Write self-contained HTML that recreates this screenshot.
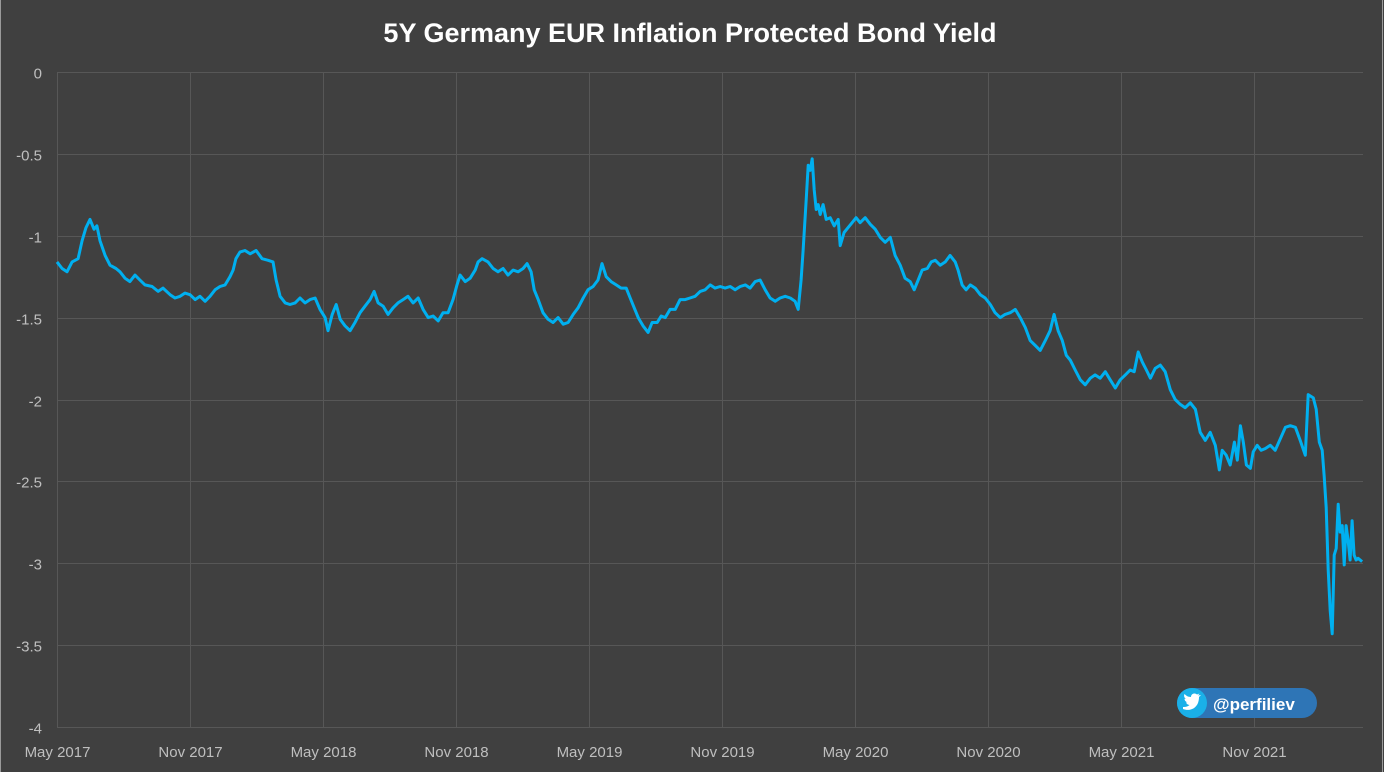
<!DOCTYPE html>
<html><head><meta charset="utf-8"><style>
html,body{margin:0;padding:0;background:#404040;}
svg{display:block;font-family:"Liberation Sans",sans-serif;}
</style></head><body>
<svg id="chart" width="1384" height="772" xmlns="http://www.w3.org/2000/svg">
<rect x="0" y="0" width="1384" height="772" fill="#404040"/>
<line x1="0.5" y1="0" x2="0.5" y2="772" stroke="#9a9a9a"/>
<line x1="1382.5" y1="0" x2="1382.5" y2="772" stroke="#9a9a9a"/>
<text x="690" y="42" text-anchor="middle" fill="#ffffff" font-size="27" font-weight="bold">5Y Germany EUR Inflation Protected Bond Yield</text>
<g id="grid"></g>
<g id="yticks"></g>
<g id="xticks"></g>
<path id="line" fill="none" stroke="#00b0f0" stroke-width="3" stroke-linejoin="round"/>
<g>
<rect x="1177" y="688" width="140" height="30" rx="15" fill="#2e75b6"/>
<circle cx="1192" cy="703" r="15" fill="#1ab0e8"/>
<path d="M1183,709 C1188,711 1195,710 1198,703 C1199,700 1199,698 1199,697 L1201,695 L1198,695.5 L1199.5,693.5 L1197,694.5 C1195,692.5 1191,693.5 1191,697 C1188,697 1186,695.5 1184.5,694 C1183.5,696 1184.5,698 1186,699 L1184.5,698.7 C1184.5,700.5 1186,702 1187.5,702.3 L1186,702.4 C1186.6,704 1188,705 1189.5,705 C1188,706.5 1185.5,707.2 1183,707 Z" fill="#ffffff"/>
<text x="1213" y="710" fill="#ffffff" font-size="17" font-weight="bold">@perfiliev</text>
</g>
</svg>
<script>
const yTickValues=[0,-0.5,-1,-1.5,-2,-2.5,-3,-3.5,-4];
const yTickLabels=["0","-0.5","-1","-1.5","-2","-2.5","-3","-3.5","-4"];
const xTickMonths=[0,6,12,18,24,30,36,42,48,54];
const xTickLabels=["May 2017","Nov 2017","May 2018","Nov 2018","May 2019","Nov 2019","May 2020","Nov 2020","May 2021","Nov 2021"];
const months=[0,0.23,0.45,0.68,0.95,1.13,1.31,1.49,1.67,1.80,1.94,2.17,2.39,2.66,2.84,3.07,3.29,3.52,3.74,3.97,4.29,4.56,4.78,5.10,5.32,5.55,5.77,6.00,6.23,6.45,6.68,6.90,7.13,7.35,7.58,7.80,7.94,8.07,8.25,8.48,8.71,8.98,9.25,9.52,9.74,9.88,10.06,10.29,10.51,10.74,10.96,11.19,11.41,11.64,11.86,12.09,12.22,12.41,12.59,12.77,12.99,13.22,13.44,13.67,13.89,14.12,14.30,14.48,14.71,14.93,15.16,15.38,15.61,15.83,16.06,16.29,16.51,16.74,16.96,17.19,17.41,17.64,17.86,18.04,18.18,18.41,18.63,18.86,18.99,19.17,19.44,19.67,19.89,20.12,20.34,20.57,20.80,21.02,21.20,21.38,21.52,21.70,21.92,22.15,22.37,22.60,22.83,23.05,23.28,23.50,23.73,23.95,24.18,24.40,24.58,24.77,24.99,25.22,25.44,25.67,25.85,26.03,26.21,26.43,26.66,26.84,27.07,27.25,27.43,27.65,27.88,28.10,28.33,28.55,28.78,29.01,29.23,29.46,29.68,29.91,30.13,30.36,30.58,30.81,31.04,31.26,31.49,31.71,31.94,32.16,32.39,32.61,32.84,33.07,33.29,33.43,33.56,33.65,33.79,33.88,33.97,34.06,34.15,34.24,34.33,34.42,34.55,34.69,34.87,35.05,35.23,35.32,35.50,35.68,35.86,36.04,36.22,36.45,36.68,36.90,37.13,37.35,37.58,37.80,38.03,38.25,38.48,38.66,38.84,39.02,39.25,39.43,39.61,39.83,40.06,40.28,40.51,40.64,40.82,41.00,41.19,41.41,41.64,41.86,42.09,42.31,42.54,42.76,42.99,43.22,43.44,43.67,43.89,44.12,44.34,44.57,44.79,44.97,45.15,45.34,45.52,45.70,45.92,46.15,46.37,46.60,46.82,47.05,47.28,47.50,47.73,47.95,48.18,48.40,48.58,48.76,48.94,49.13,49.31,49.53,49.76,49.98,50.21,50.43,50.66,50.88,51.11,51.34,51.56,51.79,52.01,52.24,52.42,52.55,52.73,52.91,53.10,53.23,53.37,53.50,53.64,53.82,53.95,54.13,54.31,54.49,54.72,54.94,55.17,55.40,55.62,55.85,56.07,56.30,56.43,56.66,56.79,56.93,57.06,57.15,57.24,57.33,57.42,57.51,57.60,57.69,57.78,57.87,57.96,58.05,58.14,58.23,58.32,58.41,58.50,58.59,58.68,58.86];
const yields=[-1.16,-1.20,-1.22,-1.16,-1.14,-1.03,-0.95,-0.90,-0.96,-0.94,-1.03,-1.12,-1.18,-1.20,-1.22,-1.26,-1.28,-1.24,-1.27,-1.30,-1.31,-1.34,-1.32,-1.36,-1.38,-1.37,-1.35,-1.36,-1.39,-1.37,-1.40,-1.37,-1.33,-1.31,-1.30,-1.25,-1.21,-1.14,-1.10,-1.09,-1.11,-1.09,-1.14,-1.15,-1.16,-1.27,-1.37,-1.41,-1.42,-1.41,-1.38,-1.41,-1.39,-1.38,-1.45,-1.50,-1.58,-1.48,-1.42,-1.51,-1.55,-1.58,-1.53,-1.47,-1.43,-1.39,-1.34,-1.41,-1.43,-1.48,-1.44,-1.41,-1.39,-1.37,-1.41,-1.38,-1.45,-1.50,-1.49,-1.52,-1.47,-1.47,-1.39,-1.30,-1.24,-1.28,-1.26,-1.21,-1.16,-1.14,-1.16,-1.20,-1.22,-1.20,-1.24,-1.21,-1.22,-1.20,-1.17,-1.22,-1.33,-1.39,-1.47,-1.51,-1.53,-1.50,-1.54,-1.53,-1.48,-1.44,-1.38,-1.33,-1.31,-1.27,-1.17,-1.25,-1.28,-1.30,-1.32,-1.32,-1.38,-1.44,-1.50,-1.55,-1.59,-1.53,-1.53,-1.49,-1.50,-1.45,-1.45,-1.39,-1.39,-1.38,-1.37,-1.34,-1.33,-1.30,-1.32,-1.31,-1.32,-1.31,-1.33,-1.31,-1.30,-1.32,-1.28,-1.27,-1.33,-1.38,-1.40,-1.38,-1.37,-1.38,-1.40,-1.45,-1.27,-1.09,-0.78,-0.57,-0.60,-0.53,-0.72,-0.84,-0.81,-0.87,-0.81,-0.90,-0.89,-0.94,-0.90,-1.06,-0.98,-0.95,-0.92,-0.89,-0.92,-0.89,-0.93,-0.96,-1.01,-1.04,-1.01,-1.12,-1.18,-1.26,-1.28,-1.33,-1.27,-1.21,-1.20,-1.16,-1.15,-1.18,-1.16,-1.12,-1.16,-1.21,-1.30,-1.33,-1.30,-1.32,-1.36,-1.38,-1.42,-1.47,-1.50,-1.48,-1.47,-1.45,-1.50,-1.56,-1.64,-1.67,-1.70,-1.64,-1.58,-1.48,-1.58,-1.64,-1.73,-1.76,-1.82,-1.88,-1.91,-1.87,-1.85,-1.87,-1.83,-1.88,-1.93,-1.88,-1.85,-1.82,-1.83,-1.71,-1.77,-1.82,-1.87,-1.81,-1.79,-1.83,-1.94,-2.00,-2.03,-2.05,-2.02,-2.06,-2.20,-2.25,-2.20,-2.28,-2.43,-2.31,-2.34,-2.40,-2.26,-2.37,-2.16,-2.26,-2.40,-2.42,-2.32,-2.28,-2.31,-2.30,-2.28,-2.31,-2.24,-2.17,-2.16,-2.17,-2.25,-2.34,-1.97,-1.99,-2.06,-2.26,-2.31,-2.47,-2.66,-3.04,-3.29,-3.43,-2.95,-2.91,-2.64,-2.81,-2.77,-3.01,-2.77,-2.86,-2.98,-2.74,-2.95,-2.98,-2.97,-2.99];
const X0=57,X1=1363,Y0=72,Y1=727,MMAX=58.9;
const xs=m=>X0+(m/MMAX)*(X1-X0);
const ys=v=>Y0+(0-v)/4*(Y1-Y0);
const NS="http://www.w3.org/2000/svg";
const grid=document.getElementById('grid'),yt=document.getElementById('yticks'),xt=document.getElementById('xticks');
function mk(tag,attrs,parent){const e=document.createElementNS(NS,tag);for(const k in attrs)e.setAttribute(k,attrs[k]);parent.appendChild(e);return e;}
yTickValues.forEach((v,i)=>{
 const y=Math.round(ys(v))+0.5;
 const l=mk('line',{x1:X0,x2:X1,y1:y,y2:y,stroke:'#575757','stroke-width':1},grid);
 
 
 const t=mk('text',{x:42,y:y+6,'text-anchor':'end',fill:'#bfbfbf','font-size':15},yt);
 
 
 t.textContent=yTickLabels[i];
});
xTickMonths.forEach((m,i)=>{
 const x=Math.round(xs(m))+0.5;
 const l=mk('line',{x1:x,x2:x,y1:Y0,y2:Y1,stroke:'#575757','stroke-width':1},grid);
 
 
 const t=mk('text',{x:x,y:757,'text-anchor':'middle',fill:'#bfbfbf','font-size':15},xt);
 
 
 t.textContent=xTickLabels[i];
});
let d='';
months.forEach((m,i)=>{d+=(i?'L':'M')+xs(m).toFixed(1)+','+ys(yields[i]).toFixed(1);});
document.getElementById('line').setAttribute('d',d);
</script>
</body></html>
